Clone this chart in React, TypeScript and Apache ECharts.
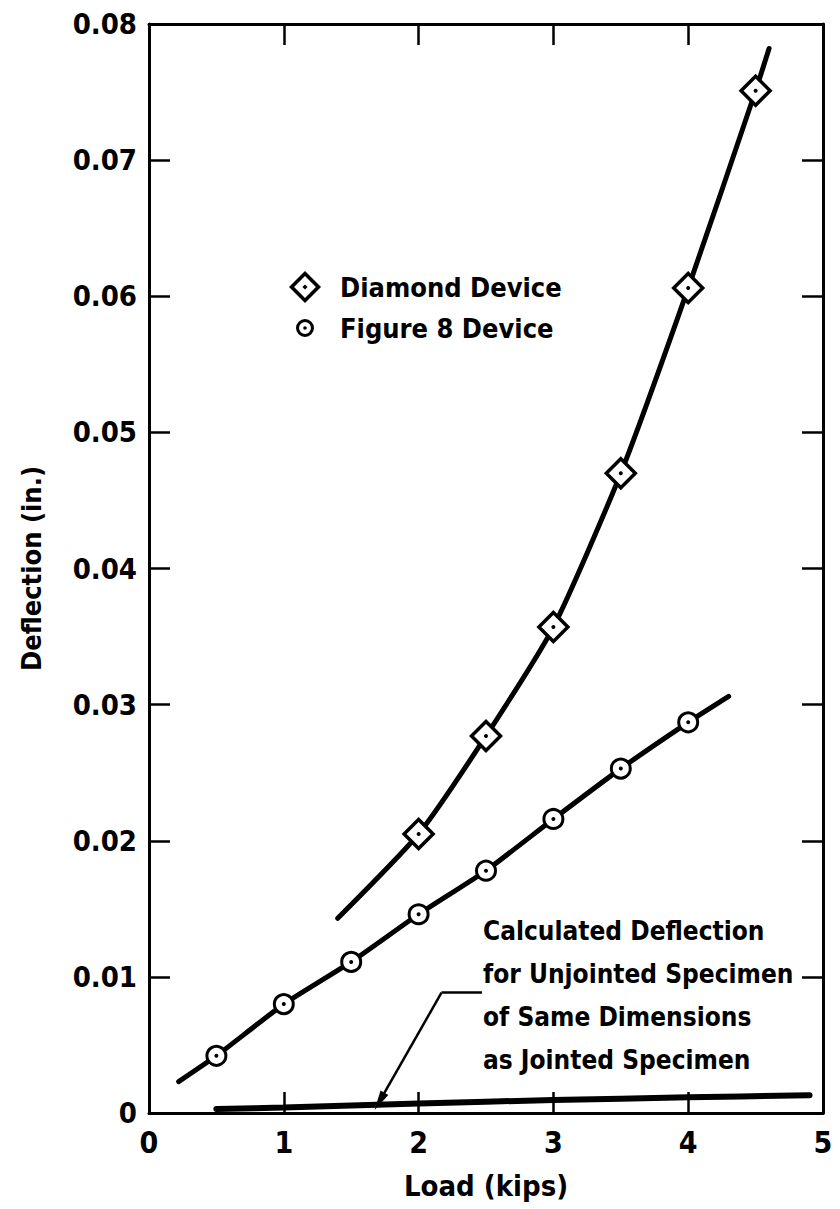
import React, { useEffect, useRef } from 'react';
import * as echarts from 'echarts';

// ---- data ----
const diamondLoads = [2, 2.5, 3, 3.5, 4, 4.5];
const diamondDeflections = [0.0205, 0.0277, 0.0357, 0.047, 0.0606, 0.0751];
const diamondCurveLoads = [1.4, 2, 2.5, 3, 3.5, 4, 4.5, 4.6];
const diamondCurveDeflections = [0.0143, 0.0205, 0.0277, 0.0357, 0.047, 0.0606, 0.0751, 0.0782];

const fig8Loads = [0.5, 1, 1.5, 2, 2.5, 3, 3.5, 4];
const fig8Deflections = [0.0042, 0.008, 0.0111, 0.0146, 0.0178, 0.0216, 0.0253, 0.0287];
const fig8CurveLoads = [0.22, 0.5, 1, 1.5, 2, 2.5, 3, 3.5, 4, 4.3];
const fig8CurveDeflections = [0.0023, 0.0042, 0.008, 0.0111, 0.0146, 0.0178, 0.0216, 0.0253, 0.0287, 0.0306];

const calcLoads = [0.5, 1, 2, 3, 4, 4.9];
const calcDeflections = [0.0003, 0.0004, 0.0007, 0.00095, 0.00115, 0.0013];

const arrowLoads = [2.47, 2.17, 1.71];
const arrowDeflections = [0.00884, 0.00884, 0.00085];

const noteLines = [
  'Calculated Deflection',
  'for Unjointed Specimen',
  'of Same Dimensions',
  'as Jointed Specimen',
];

const xMin = 0, xMax = 5, xStep = 1;
const yMin = 0, yMax = 0.08, yStep = 0.01;
const xTitle = 'Load (kips)';
const yTitle = 'Deflection (in.)';
const seriesNames = ['Diamond Device', 'Figure 8 Device'];

const FONT = "'DejaVu Sans Condensed', 'DejaVu Sans', sans-serif";
const INK = '#000';

const pairs = (xs: number[], ys: number[]) => xs.map((x, i) => [x, ys[i]]);

const diamondIcon = 'path://M50 0L100 50L50 100L0 50Z M50 16L16 50L50 84L84 50Z M50 42L58 50L50 58L42 50Z';
const circleIcon = 'path://M50 0A50 50 0 1 1 50 100A50 50 0 1 1 50 0Z M50 17A33 33 0 1 0 50 83A33 33 0 1 0 50 17Z M50 40A10 10 0 1 1 50 60A10 10 0 1 1 50 40Z';

export default function App() {
  const ref = useRef<HTMLDivElement>(null);
  useEffect(() => {
    document.body.style.margin = '0';
    if (!ref.current) return;
    const chart = echarts.init(ref.current, null, { renderer: 'svg' });
    const axisCommon = {
      type: 'value' as const,
      axisLine: { show: true, onZero: false, lineStyle: { color: INK, width: 3 } },
      axisTick: { show: true, inside: true, length: 21, lineStyle: { color: INK, width: 2.5 } },
      splitLine: { show: false },
    };
    const arrow = pairs(arrowLoads, arrowDeflections);
    chart.setOption({
      animation: false,
      backgroundColor: '#fff',
      grid: { left: 149, right: 17, top: 24, bottom: 96 },
      legend: [
        {
          data: [{ name: seriesNames[0], icon: diamondIcon, itemStyle: { color: INK, borderWidth: 0 } }],
          left: 284, top: 266, itemWidth: 32, itemHeight: 32, selectedMode: false,
          textStyle: { fontFamily: FONT, fontWeight: 'bold', fontSize: 27, color: INK, lineHeight: 30, padding: [0, 0, 0, 14] },
        },
        {
          data: [{ name: seriesNames[1], icon: circleIcon, itemStyle: { color: INK, borderWidth: 0 } }],
          left: 291, top: 308, itemWidth: 18, itemHeight: 18, selectedMode: false,
          textStyle: { fontFamily: FONT, fontWeight: 'bold', fontSize: 27, color: INK, lineHeight: 30, padding: [0, 0, 0, 21] },
        },
      ],
      xAxis: [
        {
          ...axisCommon, position: 'bottom', min: xMin, max: xMax, interval: xStep,
          name: xTitle, nameLocation: 'middle', nameGap: 58,
          nameTextStyle: { fontFamily: FONT, fontWeight: 'bold', fontSize: 29, color: INK },
          axisLabel: { fontFamily: FONT, fontWeight: 'bold', fontSize: 30, color: INK, margin: 14 },
        },
        {
          ...axisCommon, position: 'top', min: xMin, max: xMax, interval: xStep,
          axisLabel: { show: false },
        },
      ],
      yAxis: [
        {
          ...axisCommon, position: 'left', min: yMin, max: yMax, interval: yStep,
          name: yTitle, nameLocation: 'middle', nameGap: 104,
          nameTextStyle: { fontFamily: FONT, fontWeight: 'bold', fontSize: 27, color: INK },
          axisLabel: {
            fontFamily: FONT, fontWeight: 'bold', fontSize: 29, color: INK, margin: 12,
            formatter: (v: number) => (v === 0 ? '0' : v.toFixed(2)),
          },
        },
        {
          ...axisCommon, position: 'right', min: yMin, max: yMax, interval: yStep,
          axisLabel: { show: false },
        },
      ],
      graphic: [
        {
          type: 'text', left: 483, top: 909,
          style: {
            text: noteLines.join('\n'), fontFamily: FONT, fontWeight: 'bold', fontSize: 26,
            lineHeight: 43, fill: INK,
          },
        },
      ],
      series: [
        {
          name: 'Diamond curve', type: 'line', data: pairs(diamondCurveLoads, diamondCurveDeflections),
          smooth: 0.2, showSymbol: false, lineStyle: { color: INK, width: 5, cap: 'round' }, z: 2, silent: true,
        },
        {
          name: 'Figure 8 curve', type: 'line', data: pairs(fig8CurveLoads, fig8CurveDeflections),
          smooth: 0.15, showSymbol: false, lineStyle: { color: INK, width: 5, cap: 'round' }, z: 2, silent: true,
        },
        {
          name: 'Calculated', type: 'line', data: pairs(calcLoads, calcDeflections),
          smooth: 0.3, showSymbol: false, lineStyle: { color: INK, width: 6, cap: 'round' }, z: 2, silent: true,
          markLine: {
            silent: true, animation: false, label: { show: false },
            lineStyle: { color: INK, width: 2.5, type: 'solid' },
            data: [
              [
                { coord: arrow[0], symbol: 'none' },
                { coord: arrow[1], symbol: 'none' },
              ],
              [
                { coord: arrow[1], symbol: 'none' },
                { coord: arrow[2], symbol: 'triangle', symbolSize: [9, 20] },
              ],
            ],
          },
        },
        {
          name: seriesNames[0], type: 'scatter', data: pairs(diamondLoads, diamondDeflections),
          symbol: 'diamond', symbolSize: 29,
          itemStyle: { color: '#fff', borderColor: INK, borderWidth: 3.5, opacity: 1 }, z: 4,
        },
        {
          name: seriesNames[1], type: 'scatter', data: pairs(fig8Loads, fig8Deflections),
          symbol: 'circle', symbolSize: 19,
          itemStyle: { color: '#fff', borderColor: INK, borderWidth: 3, opacity: 1 }, z: 4,
        },
        {
          name: 'Diamond centres', type: 'scatter', data: pairs(diamondLoads, diamondDeflections),
          symbol: 'circle', symbolSize: 4, itemStyle: { color: INK, opacity: 1 }, z: 5, silent: true,
        },
        {
          name: 'Figure 8 centres', type: 'scatter', data: pairs(fig8Loads, fig8Deflections),
          symbol: 'circle', symbolSize: 4, itemStyle: { color: INK, opacity: 1 }, z: 5, silent: true,
        },
      ],
    });
    return () => chart.dispose();
  }, []);
  return <div ref={ref} style={{ width: 840, height: 1209 }} />;
}
